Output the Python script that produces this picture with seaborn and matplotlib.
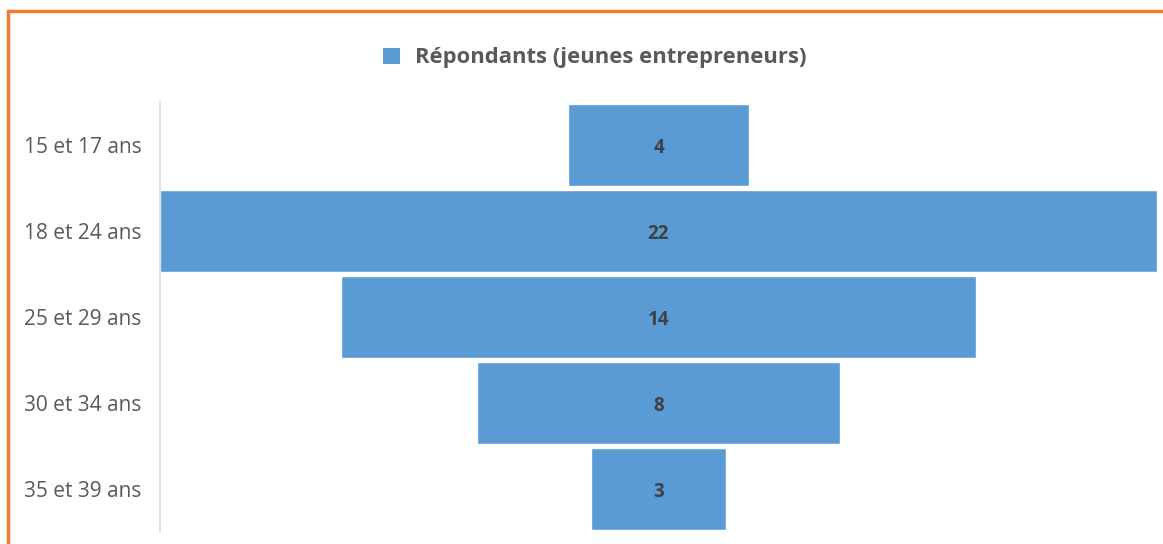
import matplotlib
matplotlib.use("Agg")
import matplotlib.pyplot as plt
import seaborn as sns
import pandas as pd
from matplotlib.lines import Line2D
from matplotlib.patches import Patch

# Data
age_groups = ["15 et 17 ans", "18 et 24 ans", "25 et 29 ans", "30 et 34 ans", "35 et 39 ans"]
respondents = [4, 22, 14, 8, 3]
series_name = "Répondants (jeunes entrepreneurs)"

df = pd.DataFrame({"age": age_groups, "count": respondents})

sns.set_theme(style="white")
plt.rcParams["font.family"] = ["Open Sans", "DejaVu Sans"]

bar_color = "#5B9BD5"
fig = plt.figure(figsize=(11.63, 5.44), dpi=100)
ax = fig.add_axes([160 / 1163, 12 / 544, 997 / 1163, 430 / 544])

sns.barplot(data=df, x="count", y="age", color=bar_color, width=0.95,
            saturation=1, orient="h", ax=ax)

# centre each bar to get a funnel
max_v = max(respondents)
for patch, v in zip(ax.patches, respondents):
    patch.set_x((max_v - v) / 2)
    ax.text(max_v / 2, patch.get_y() + patch.get_height() / 2 + 0.03, str(v),
            ha="center", va="center", fontsize=13.5, fontweight="bold",
            color="#404040")

ax.set_xlim(0, max_v)
ax.set_ylim(len(age_groups) - 0.5, -0.5)
ax.set_xlabel("")
ax.set_ylabel("")
ax.set_xticks([])
ax.tick_params(axis="y", length=0, pad=13.5, labelsize=15, labelcolor="#595959")
for side in ["top", "right", "bottom"]:
    ax.spines[side].set_visible(False)
ax.spines["left"].set_color("#D9D9D9")
ax.spines["left"].set_linewidth(1.2)

# legend
handle = Patch(facecolor=bar_color, edgecolor="none", label=series_name)
fig.legend(handles=[handle], loc="center", bbox_to_anchor=(595 / 1163, 1 - 58 / 544),
           frameon=False, handlelength=0.75, handleheight=0.75,
           handletextpad=0.7, prop={"weight": "bold", "size": 15.8})
for t in fig.legends[0].get_texts():
    t.set_color("#595959")

# orange frame (top and left edges)
fig.add_artist(Line2D([8 / 1163, 1], [1 - 11 / 544, 1 - 11 / 544], color="#ED7D31", lw=2.5))
fig.add_artist(Line2D([8 / 1163, 8 / 1163], [0, 1 - 11 / 544], color="#ED7D31", lw=2.5))

fig.savefig("out.png", dpi=100, facecolor="white")
